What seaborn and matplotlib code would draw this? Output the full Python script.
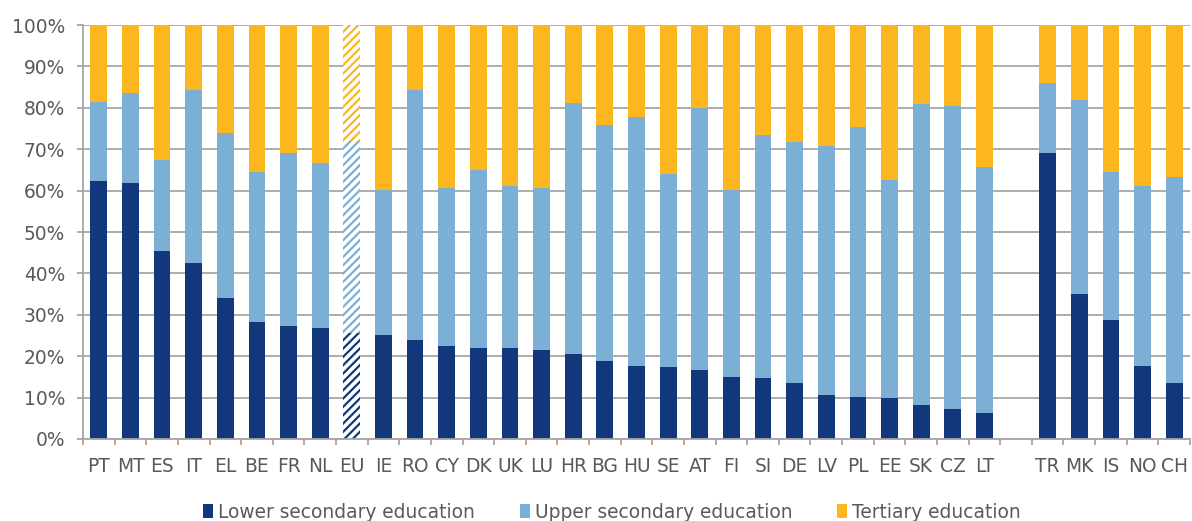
import matplotlib
matplotlib.use("Agg")
import matplotlib.pyplot as plt
from matplotlib.patches import Patch
from matplotlib.ticker import FixedLocator
import numpy as np
import pandas as pd
import seaborn as sns

# Shares of the population by highest level of education attained (%)
countries = ["PT", "MT", "ES", "IT", "EL", "BE", "FR", "NL", "EU", "IE",
             "RO", "CY", "DK", "UK", "LU", "HR", "BG", "HU", "SE", "AT",
             "FI", "SI", "DE", "LV", "PL", "EE", "SK", "CZ", "LT",
             "TR", "MK", "IS", "NO", "CH"]
lower = [62.3, 61.8, 45.4, 42.6, 34.1, 28.3, 27.3, 26.7, 25.6, 25.2,
         23.9, 22.4, 21.9, 21.9, 21.4, 20.5, 18.8, 17.6, 17.3, 16.6,
         14.9, 14.7, 13.5, 10.7, 10.2, 10.0, 8.1, 7.3, 6.4,
         69.1, 35.0, 28.8, 17.6, 13.5]
upper = [19.1, 21.8, 22.1, 41.6, 39.7, 36.2, 41.8, 40.0, 46.4, 35.0,
         60.5, 38.2, 43.1, 39.3, 39.3, 60.7, 57.0, 60.2, 46.8, 63.3,
         45.3, 58.7, 58.3, 60.0, 65.1, 52.6, 72.7, 73.2, 59.2,
         16.9, 47.0, 35.8, 43.6, 49.8]
tertiary = [18.6, 16.4, 32.5, 15.8, 26.2, 35.5, 30.9, 33.3, 28.0, 39.8,
            15.6, 39.4, 35.0, 38.8, 39.3, 18.8, 24.2, 22.2, 35.9, 20.1,
            39.8, 26.6, 28.2, 29.3, 24.7, 37.4, 19.2, 19.5, 34.4,
            14.0, 18.0, 35.4, 38.8, 36.7]
series_names = ["Lower secondary education", "Upper secondary education",
                "Tertiary education"]
series_colors = ["#12387B", "#7BAFD5", "#FCB61E"]
ytick_values = list(range(0, 101, 10))
ytick_labels = [f"{v}%" for v in ytick_values]
aggregate_label = "EU"      # drawn with striped fill
last_member = "LT"          # an empty slot separates members from others

text_color = "#595959"
line_color = "#A6A6A6"
font_size = 13.4

sns.set_theme(style="white")
plt.rcParams["font.family"] = ["DejaVu Sans"]
plt.rcParams["hatch.linewidth"] = 1.6

df = pd.DataFrame({"country": countries, "lower": lower,
                   "upper": upper, "tertiary": tertiary})
df["top_lower"] = df["lower"]
df["top_upper"] = df["lower"] + df["upper"]
df["top_tertiary"] = df["top_upper"] + df["tertiary"]

cut = countries.index(last_member) + 1
order = countries[:cut] + [" "] + countries[cut:]

fig = plt.figure(figsize=(11.92, 5.21), dpi=100)
ax = fig.add_axes([83 / 1192, 82 / 521, 1107 / 1192, 414 / 521])

# Stack by overdrawing cumulative heights, tallest first
for col, color in [("top_tertiary", series_colors[2]),
                   ("top_upper", series_colors[1]),
                   ("top_lower", series_colors[0])]:
    sns.barplot(data=df, x="country", y=col, order=order, color=color,
                width=0.53, saturation=1, errorbar=None, linewidth=0, ax=ax)

# Striped fill for the aggregate bar
agg_pos = order.index(aggregate_label)
for cont, color in zip(ax.containers, [series_colors[2], series_colors[1],
                                       series_colors[0]]):
    for p in cont.patches:
        if abs(p.get_x() + p.get_width() / 2 - agg_pos) < 0.01:
            p.set_facecolor("white")
            p.set_edgecolor(color)
            p.set_hatch("////")
            p.set_linewidth(0)

ax.set_xlim(-0.5, len(order) - 0.5)
ax.set_ylim(0, 100)
ax.set_xlabel("")
ax.set_ylabel("")

ax.yaxis.set_major_locator(FixedLocator(ytick_values))
ax.set_yticklabels(ytick_labels)
ax.yaxis.grid(True, color=line_color, linewidth=1.3)
ax.xaxis.grid(False)
ax.set_axisbelow(True)

for side in ["top", "right"]:
    ax.spines[side].set_visible(False)
for side in ["left", "bottom"]:
    ax.spines[side].set_color(line_color)
    ax.spines[side].set_linewidth(1.3)

ax.xaxis.set_minor_locator(FixedLocator(np.arange(-0.5, len(order), 1.0)))
ax.tick_params(axis="x", which="major", length=0, pad=13,
               labelsize=font_size, labelcolor=text_color)
ax.tick_params(axis="x", which="minor", length=4, width=1.3,
               color=line_color, direction="out", bottom=True)
ax.tick_params(axis="y", which="major", length=4, width=1.3,
               color=line_color, direction="out", left=True, pad=9,
               labelsize=font_size, labelcolor=text_color)

handles = [Patch(facecolor=c, edgecolor="none") for c in series_colors]
fig.legend(handles, series_names, loc="center",
           bbox_to_anchor=(612 / 1192, 9 / 521), ncol=3, frameon=False,
           handlelength=0.55, handleheight=0.7, handletextpad=0.27,
           columnspacing=2.4, fontsize=font_size, labelcolor=text_color)

fig.savefig("out.png", dpi=100)
